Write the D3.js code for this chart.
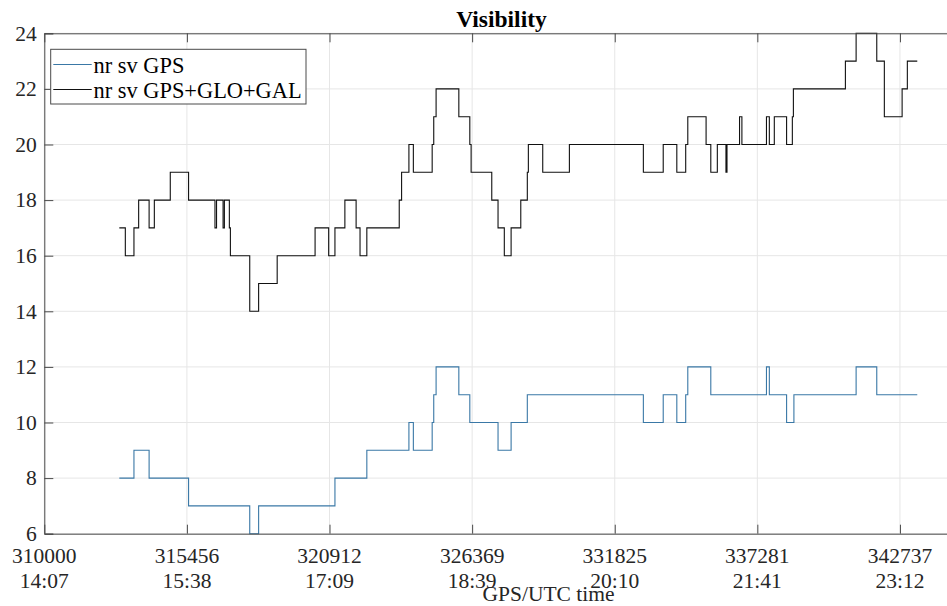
<!DOCTYPE html>
<html>
<head>
<meta charset="utf-8">
<script src="https://cdn.jsdelivr.net/npm/d3@7"></script>
<style>
  body { margin: 0; background: #fff; }
  svg { display: block; font-family: "Liberation Serif", "Times New Roman", serif; }
</style>
</head>
<body>
<svg id="chart" width="947" height="606"></svg>
<script>
// ####################################################################################
// Data : GPS seconds of week -> number of visible satellites (step values)
var gpsTimes = [312870, 313430, 314010, 315520, 317860, 318200, 321120, 322340, 323950, 324120,
  324840, 324900, 324990, 325860, 326280, 327360, 327860, 328480, 332920, 333680,
  334200, 334540, 334620, 335500, 337630, 337740, 338400, 338680, 341060, 341850, 343400];
var gpsCount = [8, 9, 8, 7, 6, 7, 8, 9, 10, 9,
  10, 11, 12, 11, 10, 9, 10, 11, 10, 11,
  10, 11, 12, 11, 12, 11, 10, 11, 12, 11, 11];

var allTimes = [312870, 313100, 313430, 313610, 314010, 314210, 314820, 315520, 316530, 316590,
  316840, 316890, 317080, 317120, 317860, 318200, 318910, 320360, 320880, 321120,
  321500, 321930, 322080, 322340, 323580, 323670, 323950, 324120, 324840, 324900,
  324990, 325860, 326280, 326330, 327120, 327360, 327600, 327860, 328230, 328480,
  328520, 329070, 330090, 332920, 333680, 334200, 334540, 334620, 335320, 335500,
  335750, 336080, 336120, 336600, 336690, 337630, 337740, 337930, 338400, 338620,
  338660, 340650, 341060, 341850, 342140, 342820, 343020, 343400];
var allCount = [17, 16, 17, 18, 17, 18, 19, 18, 17, 18,
  17, 18, 17, 16, 14, 15, 16, 17, 16, 17,
  18, 17, 16, 17, 18, 19, 20, 19, 20, 21,
  22, 21, 20, 19, 18, 17, 16, 17, 18, 19,
  20, 19, 20, 19, 20, 19, 20, 21, 20, 19,
  20, 19, 20, 21, 20, 21, 20, 21, 20, 21,
  22, 23, 24, 23, 21, 22, 23, 23];

var xTicks = [310000, 315456, 320912, 326369, 331825, 337281, 342737];
var xTickTimes = ["14:07", "15:38", "17:09", "18:39", "20:10", "21:41", "23:12"];
var yTicks = [6, 8, 10, 12, 14, 16, 18, 20, 22, 24];

var seriesNames = ["nr sv GPS", "nr sv GPS+GLO+GAL"];
var seriesColors = ["#3a78a6", "#111111"];

// ####################################################################################
// Scales
var plot = { left: 44.3, top: 33.3, bottom: 533.7 };

var xScale = d3.scaleLinear()
  .domain([310000, 348000])
  .range([plot.left, plot.left + 38000 * 0.026137]);

var yScale = d3.scaleLinear()
  .domain([6, 24])
  .range([plot.bottom, plot.top]);

var svg = d3.select("#chart");
var axisColor = "#4a4a4a";
var textColor = "#262626";

// Grid
svg.append("g").attr("class", "grid")
  .selectAll("line.gx")
  .data(xTicks)
  .join("line")
    .attr("x1", d => xScale(d)).attr("x2", d => xScale(d))
    .attr("y1", plot.top).attr("y2", plot.bottom)
    .attr("stroke", "#e6e6e6").attr("stroke-width", 1);

svg.select(".grid")
  .selectAll("line.gy")
  .data(yTicks)
  .join("line")
    .attr("class", "gy")
    .attr("x1", plot.left).attr("x2", 947)
    .attr("y1", d => yScale(d)).attr("y2", d => yScale(d))
    .attr("stroke", "#e6e6e6").attr("stroke-width", 1);

// ###########################################
// Lines (stairs)
var lineGen = d3.line()
  .x(d => xScale(d[0]))
  .y(d => yScale(d[1]))
  .curve(d3.curveStepAfter);

var seriesData = [
  gpsTimes.map((t, i) => [t, gpsCount[i]]),
  allTimes.map((t, i) => [t, allCount[i]])
];

svg.selectAll("path.series")
  .data(seriesData)
  .join("path")
    .attr("class", "series")
    .attr("d", d => lineGen(d))
    .attr("fill", "none")
    .attr("stroke", (d, i) => seriesColors[i])
    .attr("stroke-width", 1.1);

// ###########################################
// Axes (ticks inside, box on)
svg.append("g")
  .attr("transform", `translate(${plot.left},0)`)
  .call(d3.axisLeft(yScale).tickValues(yTicks).tickSize(-9).tickPadding(7.5))
  .call(g => g.select(".domain").attr("stroke", axisColor))
  .call(g => g.selectAll(".tick line").attr("stroke", axisColor))
  .selectAll("text")
    .attr("fill", textColor)
    .style("font-size", "21.5px")
    .style("font-family", "Liberation Serif");

svg.append("g")
  .attr("transform", `translate(0,${plot.bottom})`)
  .call(d3.axisBottom(xScale).tickValues(xTicks).tickSize(-9).tickSizeOuter(0).tickFormat(""))
  .call(g => g.select(".domain").attr("stroke", axisColor))
  .call(g => g.selectAll(".tick line").attr("stroke", axisColor));

svg.append("g")
  .attr("transform", `translate(0,${plot.top})`)
  .call(d3.axisTop(xScale).tickValues(xTicks).tickSize(-9).tickSizeOuter(0).tickFormat(""))
  .call(g => g.select(".domain").attr("stroke", axisColor))
  .call(g => g.selectAll(".tick line").attr("stroke", axisColor));

// two line tick labels : gps seconds / utc time
svg.selectAll("text.xlab1")
  .data(xTicks)
  .join("text")
    .attr("class", "xlab1")
    .attr("x", d => xScale(d))
    .attr("y", 562.5)
    .attr("text-anchor", "middle")
    .attr("fill", textColor)
    .style("font-size", "21.5px")
    .text(d => d);

svg.selectAll("text.xlab2")
  .data(xTicks)
  .join("text")
    .attr("class", "xlab2")
    .attr("x", d => xScale(d))
    .attr("y", 588.3)
    .attr("text-anchor", "middle")
    .attr("fill", textColor)
    .style("font-size", "21.5px")
    .text((d, i) => xTickTimes[i]);

svg.append("text")
  .attr("x", 548.5)
  .attr("y", 600.5)
  .attr("text-anchor", "middle")
  .attr("fill", textColor)
  .style("font-size", "21.5px")
  .text("GPS/UTC time");

svg.append("text")
  .attr("x", 501.5)
  .attr("y", 27)
  .attr("text-anchor", "middle")
  .attr("fill", "#000")
  .style("font-size", "23.5px")
  .style("font-weight", "bold")
  .text("Visibility");

// ###########################################
// Legend
var legend = svg.append("g");
legend.append("rect")
  .attr("x", 50.7).attr("y", 49.3)
  .attr("width", 255.3).attr("height", 54.7)
  .attr("fill", "#fff")
  .attr("stroke", axisColor).attr("stroke-width", 1);

legend.selectAll("line.leg")
  .data(seriesNames)
  .join("line")
    .attr("class", "leg")
    .attr("x1", 53.3).attr("x2", 91.7)
    .attr("y1", (d, i) => 64.5 + i * 25).attr("y2", (d, i) => 64.5 + i * 25)
    .attr("stroke", (d, i) => seriesColors[i])
    .attr("stroke-width", 1.1);

legend.selectAll("text.leg")
  .data(seriesNames)
  .join("text")
    .attr("class", "leg")
    .attr("x", 93.5)
    .attr("y", (d, i) => 72.5 + i * 25)
    .attr("fill", "#000")
    .style("font-size", "22.4px")
    .text(d => d);
</script>
</body>
</html>
